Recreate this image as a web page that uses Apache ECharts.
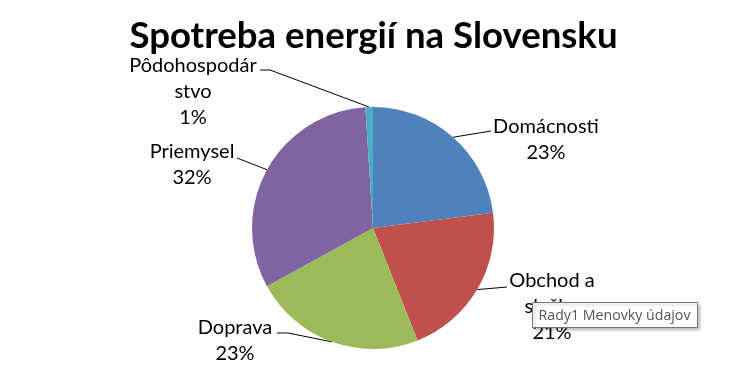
<!DOCTYPE html>
<html><head><meta charset="utf-8">
<script src="https://cdn.jsdelivr.net/npm/echarts@6/dist/echarts.min.js"></script>
<style>html,body{margin:0;padding:0;background:#fff}#c{width:747px;height:391px}</style>
</head><body><div id="c"></div>
<script>
const titleText = 'Spotreba energií na Slovensku';
const categories = ['Domácnosti', 'Obchod a\nslužby', 'Doprava', 'Priemysel', 'Pôdohospodár\nstvo'];
const values = [23, 21, 23, 32, 1];
const colors = ['#4F81BD', '#C0504D', '#9BBB59', '#8064A2', '#4BACC6'];
const tooltipText = 'Rady1 Menovky údajov';

// label placement (layout config)
const labelCfg = [
  {x: 546, y: 140, line: [[491, 131]]},
  {x: 552, y: 307, line: [[507, 287]]},
  {x: 235, y: 341, line: [[288, 333], [277, 333]]},
  {x: 192, y: 165, line: [[237, 158]]},
  {x: 193, y: 92,  line: [[270, 70], [260, 70]]}
];

const chart = echarts.init(document.getElementById('c'));
chart.setOption({
  animation: false,
  title: {
    text: titleText, left: 'center', top: 13,
    textStyle: {fontFamily: 'Lato', fontWeight: 'bold', fontSize: 36.6, color: '#000'}
  },
  color: colors,
  series: [{
    type: 'pie',
    center: [373, 228],
    radius: 121,
    startAngle: 90,
    clockwise: true,
    data: categories.map((c, i) => ({name: c, value: values[i]})),
    label: {
      show: true,
      formatter: p => p.name + '\n' + Math.round(p.percent) + '%',
      fontFamily: 'Lato', fontSize: 20, lineHeight: 26, color: '#000', align: 'center'
    },
    labelLine: {show: true, lineStyle: {color: '#000', width: 1}},
    labelLayout: function (p) {
      const cfg = labelCfg[p.dataIndex];
      const start = p.labelLinePoints ? p.labelLinePoints[0] : null;
      const pts = start ? [start].concat(cfg.line) : undefined;
      return {x: cfg.x, y: cfg.y, align: 'center', verticalAlign: 'middle', labelLinePoints: pts};
    },
    itemStyle: {borderWidth: 0}
  }],
  graphic: [{
    type: 'group', left: 532, top: 302, z: 1000, zlevel: 1,
    children: [
      {type: 'rect', z: 1000, shape: {x: 0, y: 0, width: 165, height: 25},
       style: {fill: '#fff', stroke: '#777', lineWidth: 1, shadowBlur: 3, shadowOffsetX: 2, shadowOffsetY: 2, shadowColor: 'rgba(0,0,0,0.25)'}},
      {type: 'text', z: 1001, x: 6, y: 13, style: {text: tooltipText, fontFamily: 'Open Sans', fontSize: 14.2, fill: '#555', verticalAlign: 'middle'}}
    ]
  }]
});
</script></body></html>
